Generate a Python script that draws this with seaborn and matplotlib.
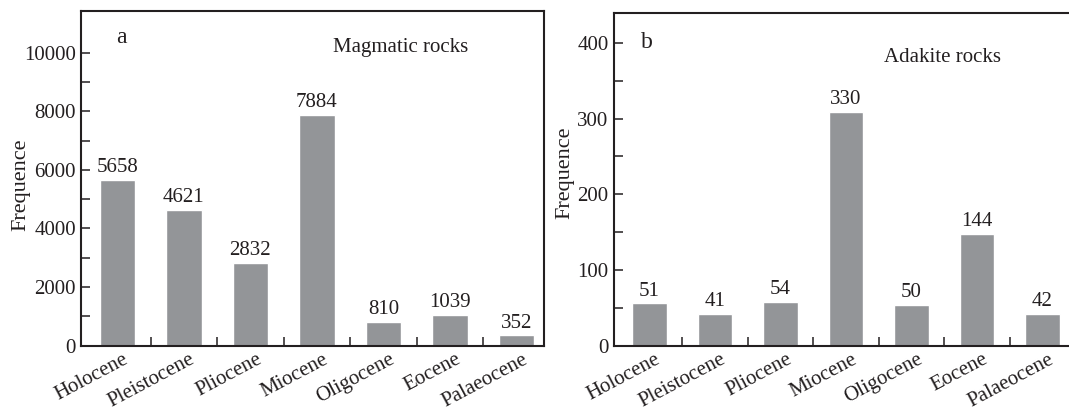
import seaborn as sns
import matplotlib.pyplot as plt
import pandas as pd
from matplotlib.ticker import MultipleLocator, FixedLocator
from matplotlib.transforms import ScaledTranslation

epochs = ['Holocene', 'Pleistocene', 'Pliocene', 'Miocene', 'Oligocene', 'Eocene', 'Palaeocene']
magmatic = [5658, 4621, 2832, 7884, 810, 1039, 352]
# panel b: bar heights as drawn in the figure, and the numbers printed over them
adakite_bars = [56, 42, 58, 309, 54, 148, 42]
adakite_labels = [51, 41, 54, 330, 50, 144, 42]

sns.set_style('ticks')
plt.rcParams['font.family'] = ['Liberation Serif', 'DejaVu Serif']
ink = '#231f20'
bar_color = '#939598'
fs = 15

fig = plt.figure(figsize=(10.69, 4.07), dpi=100)
ax_a = fig.add_axes([0.0762, 0.1506, 0.4331, 0.8231])
ax_b = fig.add_axes([0.5744, 0.1506, 0.4266, 0.8182])


def draw(ax, values, labels, ymax, major, minor, tag, title, tag_xy, title_xy):
    df = pd.DataFrame({'epoch': epochs, 'n': values})
    sns.barplot(data=df, x='epoch', y='n', color=bar_color, width=0.53,
                saturation=1, ax=ax)
    for i, (v, lab) in enumerate(zip(values, labels)):
        ax.annotate(str(lab), (i, v), xytext=(0, 2), textcoords='offset points',
                    ha='center', va='bottom', fontsize=fs, color=ink)
    ax.set_xlim(-0.54, 6.42)
    ax.set_ylim(0, ymax)
    ax.yaxis.set_major_locator(MultipleLocator(major))
    ax.yaxis.set_minor_locator(FixedLocator(minor))
    ax.xaxis.set_minor_locator(FixedLocator([i + 0.5 for i in range(6)]))
    ax.tick_params(axis='y', which='both', direction='in', length=6.5, width=1.1,
                   color=ink, labelsize=fs, labelcolor=ink, pad=4)
    ax.tick_params(axis='x', which='major', length=0, labelsize=fs,
                   labelcolor=ink, pad=3)
    ax.tick_params(axis='x', which='minor', direction='in', length=6.5,
                   width=1.1, color=ink)
    off = ScaledTranslation(4 / 72, 0, fig.dpi_scale_trans)
    for t in ax.get_xticklabels():
        t.set_rotation(28)
        t.set_ha('right')
        t.set_va('top')
        t.set_rotation_mode('anchor')
        t.set_transform(t.get_transform() + off)
    for s in ax.spines.values():
        s.set_visible(True)
        s.set_linewidth(1.5)
        s.set_color(ink)
    ax.set_xlabel('')
    ax.set_ylabel('Frequence', fontsize=fs + 1, color=ink)
    ax.text(*tag_xy, tag, transform=ax.transAxes, fontsize=fs + 2, color=ink,
            ha='left', va='center')
    ax.text(*title_xy, title, transform=ax.transAxes, fontsize=fs, color=ink,
            ha='center', va='center')


draw(ax_a, magmatic, magmatic, 11430, 2000, [1000, 3000, 5000, 7000, 9000],
     'a', 'Magmatic rocks', (0.075, 0.92), (0.69, 0.89))
ax_a.yaxis.set_label_coords(-0.11, 0.48)

draw(ax_b, adakite_bars, adakite_labels, 440, 100, [50, 150, 250, 350],
     'b', 'Adakite rocks', (0.06, 0.91), (0.72, 0.865))
ax_b.yaxis.set_label_coords(-0.087, 0.52)

fig.savefig('out.png', dpi=100)
